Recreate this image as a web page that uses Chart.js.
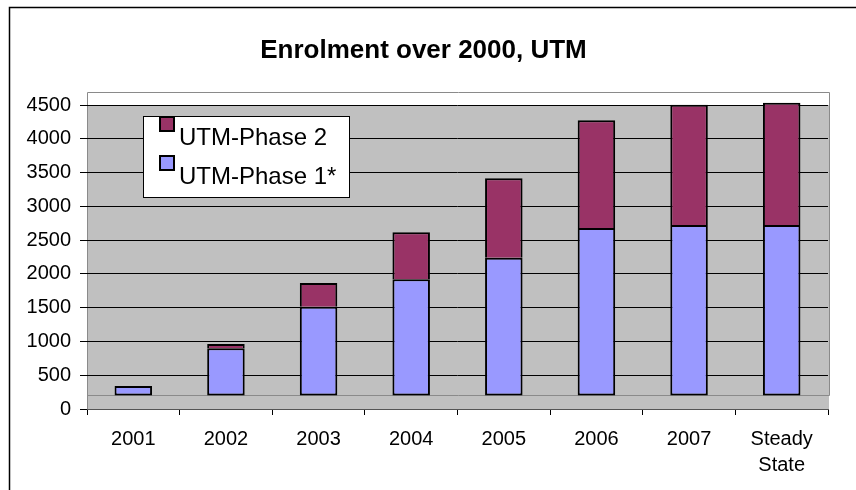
<!DOCTYPE html>
<html><head><meta charset="utf-8">
<script src="https://cdn.jsdelivr.net/npm/chart.js@4.4.1/dist/chart.umd.min.js"></script>
<style>html,body{margin:0;padding:0;background:#fff}#wrap{width:856px;height:490px;position:relative}</style>
</head><body><div id="wrap"><canvas id="c" width="856" height="490"></canvas></div>
<script>
const categories = ['2001', '2002', '2003', '2004', '2005', '2006', '2007', ['Steady', 'State']];
const phase1 = [340, 898, 1514, 1920, 2240, 2679, 2723, 2723];
const phase2 = [0, 64, 351, 695, 1174, 1594, 1782, 1811];
const yTicks = [0, 500, 1000, 1500, 2000, 2500, 3000, 3500, 4000, 4500];
const seriesNames = ['UTM-Phase 1*', 'UTM-Phase 2'];
const titleText = 'Enrolment over 2000, UTM';
const FLOOR = 200; // 3-D floor level of the original chart

const FONT = "'Liberation Sans', Arial, sans-serif";
const BLUE = '#9999FF', MAROON = '#993366';

const wallPlugin = {
  id: 'wall',
  beforeDraw(chart) {
    const {ctx, chartArea: a, scales: {y}} = chart;
    const top = 92.5, right = a.right + 1;
    const floorY = y.getPixelForValue(FLOOR);
    ctx.save();
    ctx.strokeStyle = '#000'; ctx.lineWidth = 1.5;
    ctx.beginPath(); ctx.moveTo(9.5, 490); ctx.lineTo(9.5, 7.5); ctx.lineTo(856, 7.5); ctx.stroke();
    ctx.fillStyle = '#fff'; ctx.fillRect(a.left, top, right - a.left, a.top - top);
    ctx.fillStyle = '#C0C0C0'; ctx.fillRect(a.left, a.top, right - a.left, floorY - a.top);
    ctx.fillStyle = '#C0C0C0'; ctx.fillRect(a.left, floorY, right - a.left, a.bottom - floorY);
    ctx.strokeStyle = '#8a8a8a'; ctx.lineWidth = 1;
    ctx.beginPath();
    ctx.moveTo(a.left + 0.5, a.bottom); ctx.lineTo(a.left + 0.5, top);
    ctx.lineTo(right + 0.5, top); ctx.lineTo(right + 0.5, Math.round(floorY) + 0.5);
    ctx.lineTo(a.left, Math.round(floorY) + 0.5);
    ctx.stroke();
    ctx.restore();
  }
};

const legendPlugin = {
  id: 'boxLegend',
  afterDraw(chart) {
    const {ctx} = chart;
    const x0 = 143.5, y0 = 116.5, w = 206, h = 81;
    ctx.save();
    ctx.fillStyle = '#fff'; ctx.fillRect(x0, y0, w, h);
    ctx.strokeStyle = '#000'; ctx.lineWidth = 1; ctx.strokeRect(x0, y0, w, h);
    const items = chart.data.datasets.slice().reverse();
    ctx.font = '24px ' + FONT;
    ctx.textBaseline = 'alphabetic'; ctx.textAlign = 'left';
    items.forEach((ds, i) => {
      const my = 116 + i * 39;
      ctx.fillStyle = ds.backgroundColor;
      ctx.fillRect(160, my + 1, 14, 14);
      ctx.strokeStyle = '#000'; ctx.lineWidth = 2;
      ctx.strokeRect(160, my + 1, 14, 14);
      ctx.fillStyle = '#000';
      ctx.fillText(ds.label, 179, 145 + i * 39);
    });
    ctx.restore();
  }
};

new Chart(document.getElementById('c'), {
  type: 'bar',
  data: {
    labels: categories,
    datasets: [
      {
        label: seriesNames[0],
        data: phase1.map(v => [FLOOR, v]),
        backgroundColor: BLUE,
        borderColor: '#000',
        borderWidth: {top: 2, right: 2, bottom: 2, left: 2},
        borderSkipped: false,
        clip: false
      },
      {
        label: seriesNames[1],
        data: phase2.map((v, i) => v ? [phase1[i], phase1[i] + v] : null),
        backgroundColor: MAROON,
        borderColor: '#000',
        borderWidth: {top: 2, right: 2, bottom: 0, left: 2},
        borderSkipped: false,
        clip: false
      }
    ]
  },
  options: {
    responsive: false,
    animation: false,
    devicePixelRatio: 1,
    layout: {padding: {left: 19, right: 28, top: 0, bottom: 0}},
    datasets: {bar: {categoryPercentage: 1, barPercentage: 0.405}},
    plugins: {
      legend: {display: false},
      tooltip: {enabled: false},
      title: {
        display: true, text: titleText, color: '#000',
        font: {family: FONT, size: 26, weight: 'bold', lineHeight: 1.2},
        padding: {top: 35, bottom: 38.8}
      }
    },
    scales: {
      x: {
        stacked: true,
        grid: {drawOnChartArea: false, offset: true, tickLength: 6, color: '#000'},
        border: {display: true, color: '#555'},
        ticks: {color: '#000', padding: 11, font: {family: FONT, size: 20, lineHeight: 1.3}, maxRotation: 0, autoSkip: false},
        afterFit(s) { s.height = 81; }
      },
      y: {
        stacked: false,
        min: yTicks[0], max: yTicks[yTicks.length - 1],
        afterBuildTicks(s) { s.ticks = yTicks.map(v => ({value: v})); },
        grid: {color: '#000', tickColor: '#000', tickLength: 7},
        border: {display: false},
        ticks: {color: '#000', padding: 9, font: {family: FONT, size: 20}, callback: v => String(v)},
        afterFit(s) { s.width = 68; }
      }
    }
  },
  plugins: [wallPlugin, legendPlugin]
});
</script>
</body></html>
